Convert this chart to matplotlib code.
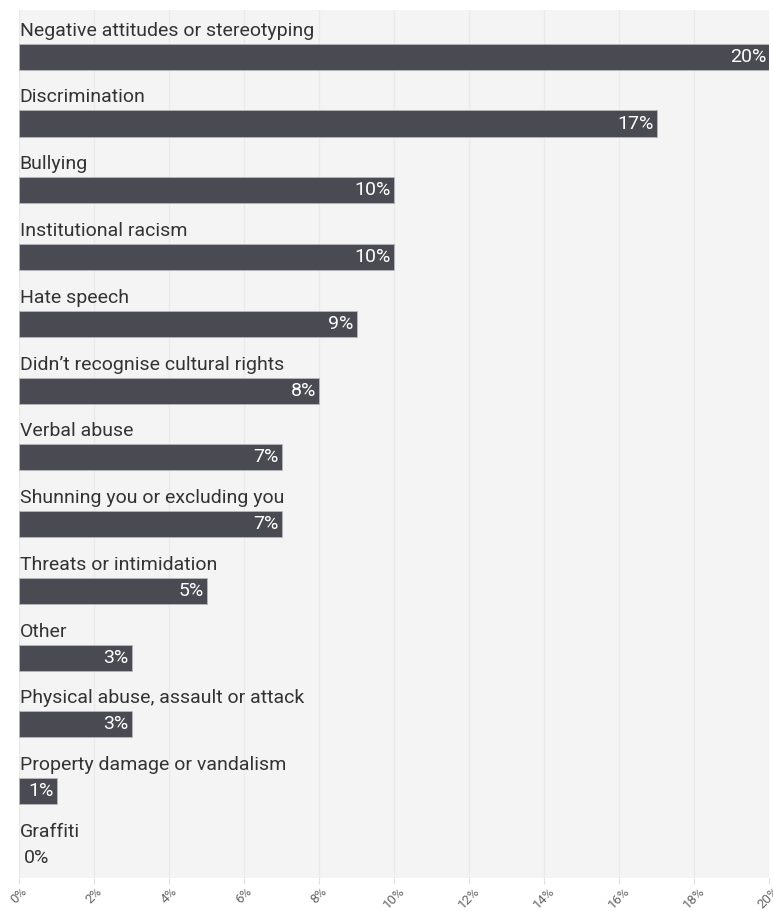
import numpy as np
import matplotlib.pyplot as plt

# Share of respondents by type of racism experienced
categories = [
    'Negative attitudes or stereotyping',
    'Discrimination',
    'Bullying',
    'Institutional racism',
    'Hate speech',
    'Didn\u2019t recognise cultural rights',
    'Verbal abuse',
    'Shunning you or excluding you',
    'Threats or intimidation',
    'Other',
    'Physical abuse, assault or attack',
    'Property damage or vandalism',
    'Graffiti',
]
values = [20, 17, 10, 10, 9, 8, 7, 7, 5, 3, 3, 1, 0]
xticks = list(range(0, 21, 2))

plt.rcParams['font.family'] = ['Roboto', 'DejaVu Sans']

bar_color = '#4a4a52'
fig = plt.figure(figsize=(7.73, 9.11), dpi=100)
ax = fig.add_axes([19 / 773, 33 / 911, 750 / 773, 868 / 911])
ax.set_facecolor('#f4f4f4')

pos = np.arange(len(categories))
ax.barh(pos + 0.70, values, height=0.39, color=bar_color,
        edgecolor=['#b8b8bc' if v > 0 else 'none' for v in values],
        linewidth=0.6, zorder=3)

for y, cat, v in zip(pos, categories, values):
    ax.text(0.02, y + 0.31, cat, va='center', ha='left', fontsize=14,
            color='#333333', zorder=4)
    if v > 0:
        ax.text(v - 0.08, y + 0.70, f'{v}%', va='center', ha='right',
                fontsize=14, color='white', zorder=4)
    else:
        ax.text(0.12, y + 0.70, f'{v}%', va='center', ha='left',
                fontsize=14, color='#333333', zorder=4)

ax.set_xlim(0, 20)
ax.set_ylim(len(categories), 0)
ax.set_xticks(xticks)
ax.set_xticklabels([f'{t}%' for t in xticks], rotation=45, ha='center',
                   fontsize=9.5, color='#666666')
ax.set_yticks([])
ax.grid(axis='x', color='#eaeaea', linewidth=1, zorder=0)
ax.tick_params(axis='x', length=4, color='#e0e0e0', pad=1)
for s in ax.spines.values():
    s.set_visible(False)

fig.savefig('out.png', dpi=100)
